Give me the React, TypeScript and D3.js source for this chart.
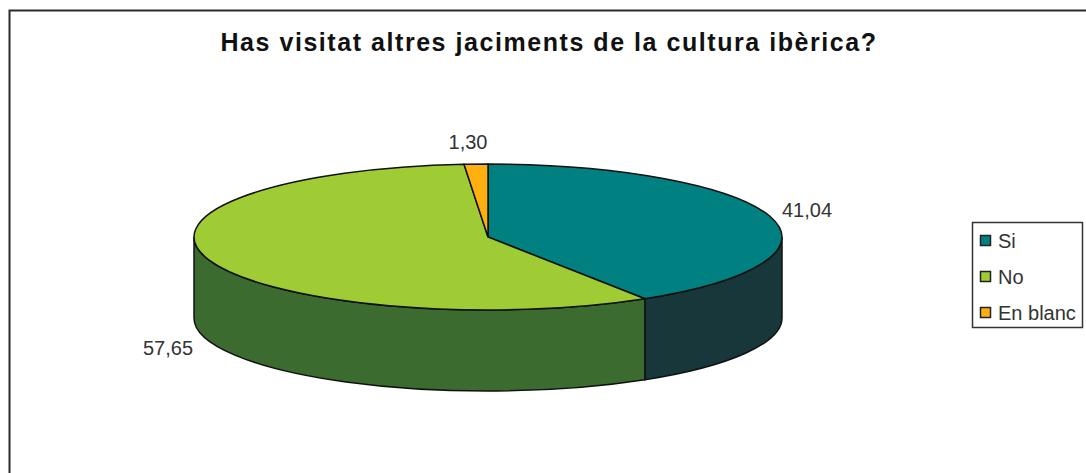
import * as d3 from 'd3'
import { useEffect, useRef } from 'react'

const title = 'Has visitat altres jaciments de la cultura ibèrica?'
const categories = ['Si', 'No', 'En blanc']
const values = [41.04, 57.65, 1.3]
const valueLabels = ['41,04', '57,65', '1,30']
const topColors = ['#008080', '#9FCB35', '#FFB010']
const sideColors = ['#17373A', '#3B6B2F', '#A87800']

const width = 1086
const height = 473
const cx = 488
const cy = 237
const rx = 294
const ry = 73
const depth = 81
const font = 'Liberation Sans, Arial, sans-serif'

const px = (a: number) => cx + rx * Math.sin(a)
const py = (a: number) => cy - ry * Math.cos(a)

export default function App() {
  const svgRef = useRef<SVGSVGElement>(null)

  useEffect(() => {
    const svg = d3.select(svgRef.current)
    svg.selectAll('*').remove()

    // marc del grafic, retallat per la dreta i per sota
    svg.append('path')
      .attr('d', `M1086 10.5H9.5V473`)
      .attr('fill', 'none')
      .attr('stroke', '#2a2a2a')
      .attr('stroke-width', 2)

    svg.append('text')
      .attr('x', 549)
      .attr('y', 51)
      .attr('text-anchor', 'middle')
      .attr('font-family', font)
      .attr('font-weight', 'bold')
      .attr('font-size', 25)
      .attr('letter-spacing', 1.55)
      .attr('fill', '#111')
      .text(title)

    const slices = d3.pie<number>().sort(null)(values)

    // parets laterals, nomes la meitat frontal
    const front = slices
      .map((s, i) => ({
        i,
        a0: Math.max(s.startAngle, Math.PI / 2),
        a1: Math.min(s.endAngle, (3 * Math.PI) / 2),
      }))
      .filter((d) => d.a1 > d.a0)

    svg.append('g')
      .selectAll('path')
      .data(front)
      .join('path')
      .attr('d', (d) =>
        `M${px(d.a0)} ${py(d.a0)}A${rx} ${ry} 0 0 1 ${px(d.a1)} ${py(d.a1)}` +
        `V${py(d.a1) + depth}A${rx} ${ry} 0 0 0 ${px(d.a0)} ${py(d.a0) + depth}Z`
      )
      .attr('fill', (d) => sideColors[d.i])
      .attr('stroke', '#111')
      .attr('stroke-width', 1.5)

    const arc = d3.arc<d3.PieArcDatum<number>>().innerRadius(0).outerRadius(rx)

    svg.append('g')
      .attr('transform', `translate(${cx},${cy}) scale(1,${ry / rx})`)
      .selectAll('path')
      .data(slices)
      .join('path')
      .attr('d', (d) => arc(d))
      .attr('fill', (_, i) => topColors[i])
      .attr('stroke', '#111')
      .attr('stroke-width', 1.5)
      .attr('vector-effect', 'non-scaling-stroke')

    const labelPos = [
      { x: 807, y: 217 },
      { x: 168, y: 355 },
      { x: 468, y: 149 },
    ]
    svg.append('g')
      .selectAll('text')
      .data(valueLabels)
      .join('text')
      .attr('x', (_, i) => labelPos[i].x)
      .attr('y', (_, i) => labelPos[i].y)
      .attr('text-anchor', 'middle')
      .attr('font-family', font)
      .attr('font-size', 20)
      .attr('fill', '#333')
      .text((d) => d)

    // llegenda
    const legend = svg.append('g')
    legend.append('rect')
      .attr('x', 972.5)
      .attr('y', 222.5)
      .attr('width', 110)
      .attr('height', 105)
      .attr('fill', '#fff')
      .attr('stroke', '#333')
      .attr('stroke-width', 1.5)

    const rowY = d3.scalePoint<string>().domain(categories).range([241, 313])
    const rows = legend.selectAll('g')
      .data(categories)
      .join('g')
      .attr('transform', (d) => `translate(0,${rowY(d)})`)
    rows.append('rect')
      .attr('x', 980.5)
      .attr('y', -5.5)
      .attr('width', 10)
      .attr('height', 10)
      .attr('fill', (_, i) => topColors[i])
      .attr('stroke', '#222')
      .attr('stroke-width', 1.5)
    rows.append('text')
      .attr('x', 998)
      .attr('y', 7)
      .attr('font-family', font)
      .attr('font-size', 20)
      .attr('fill', '#333')
      .text((d) => d)
  }, [])

  return (
    <svg
      ref={svgRef}
      width={width}
      height={height}
      style={{ position: 'absolute', left: 0, top: 0, background: '#fff' }}
    />
  )
}
